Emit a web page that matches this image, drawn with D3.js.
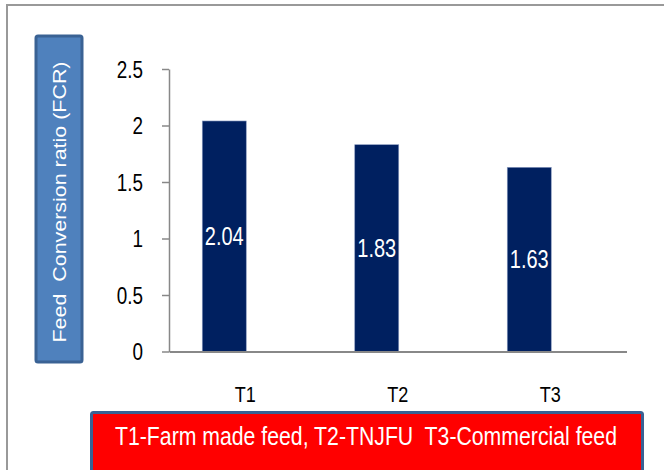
<!DOCTYPE html>
<html><head><meta charset="utf-8">
<script src="https://cdn.jsdelivr.net/npm/d3@7"></script>
<style>body{margin:0;background:#fff}svg{display:block}</style>
</head><body>
<script>
const categories = ["T1", "T2", "T3"];
const fcrValues = [2.04, 1.83, 1.63];
const valueLabels = ["2.04", "1.83", "1.63"];
const yTicks = [0, 0.5, 1, 1.5, 2, 2.5];
const yTickLabels = ["0", "0.5", "1", "1.5", "2", "2.5"];
const yTitle = "Feed  Conversion ratio (FCR)";
const footnote = "T1-Farm made feed, T2-TNJFU  T3-Commercial feed";

const W = 664, H = 470;
const svg = d3.select("body").append("svg").attr("width", W).attr("height", H);
const font = "'Liberation Sans', Arial, sans-serif";

function condense(sel, k) {
  sel.each(function () {
    const len = this.getComputedTextLength();
    d3.select(this).attr("textLength", len * k).attr("lengthAdjust", "spacingAndGlyphs");
  });
}

// outer frame
svg.append("rect").attr("x", 7).attr("y", 5).attr("width", 680).attr("height", 500)
  .attr("fill", "#fff").attr("stroke", "#999").attr("stroke-width", 2);

const x = d3.scaleBand().domain(categories).range([169, 626.5]).paddingInner(0).paddingOuter(0);
const y = d3.scaleLinear().domain([0, 2.5]).range([351.5, 69]);

// y axis
const yAxis = svg.append("g").attr("transform", "translate(169,0)")
  .call(d3.axisLeft(y).tickValues(yTicks).tickFormat((d, i) => yTickLabels[i]).tickSize(7).tickSizeOuter(0));
yAxis.select(".domain").attr("stroke", "#888").attr("stroke-width", 1.5);
yAxis.selectAll(".tick line").attr("stroke", "#888").attr("stroke-width", 1.5);
yAxis.selectAll(".tick text").attr("font-family", font).attr("font-size", 23).attr("fill", "#000")
  .attr("x", -26).attr("dy", "0.36em").call(condense, 0.82);

// bars (offset left within band)
const barW = 44;
svg.selectAll("rect.bar").data(fcrValues).join("rect").attr("class", "bar")
  .attr("x", (d, i) => x(categories[i]) + x.bandwidth() / 2 - 21 - barW / 2)
  .attr("y", d => y(d)).attr("width", barW).attr("height", d => y(0) - y(d))
  .attr("fill", "#002060").attr("stroke", "#8A9BC0").attr("stroke-width", 0.6);

svg.selectAll("text.val").data(fcrValues).join("text").attr("class", "val")
  .attr("x", (d, i) => x(categories[i]) + x.bandwidth() / 2 - 21)
  .attr("y", d => (y(d) + y(0)) / 2).attr("dy", "0.36em")
  .attr("text-anchor", "middle").attr("font-family", font).attr("font-size", 25)
  .attr("fill", "#fff").text((d, i) => valueLabels[i]).call(condense, 0.8);

// x axis
const xAxis = svg.append("g").attr("transform", `translate(0,${y(0)})`)
  .call(d3.axisBottom(x).tickSize(0).tickSizeOuter(0));
xAxis.select(".domain").attr("stroke", "#888").attr("stroke-width", 2);
xAxis.selectAll(".tick text").attr("font-family", font).attr("font-size", 22).attr("fill", "#000")
  .attr("y", 0).attr("dy", 50.5).call(condense, 0.82);

// y title box
svg.append("rect").attr("x", 36).attr("y", 36).attr("width", 46).attr("height", 326).attr("rx", 2)
  .attr("fill", "#4F81BD").attr("stroke", "#3A6294").attr("stroke-width", 3);
svg.append("text").attr("transform", "translate(59,202) rotate(-90)")
  .attr("text-anchor", "middle").attr("dy", "0.36em").attr("font-family", font).attr("font-size", 18.5)
  .attr("fill", "#fff").style("white-space", "pre").text(yTitle)
  .attr("textLength", 281).attr("lengthAdjust", "spacingAndGlyphs");

// footnote box
svg.append("rect").attr("x", 91.5).attr("y", 412.5).attr("width", 551).attr("height", 80).attr("rx", 2)
  .attr("fill", "#FF0000").attr("stroke", "#3A6294").attr("stroke-width", 3);
svg.append("text").attr("x", 366).attr("y", 436).attr("dy", "0.36em").attr("text-anchor", "middle")
  .attr("font-family", font).attr("font-size", 25).attr("fill", "#fff").style("white-space", "pre")
  .text(footnote).attr("textLength", 502).attr("lengthAdjust", "spacingAndGlyphs");
</script>
</body></html>
